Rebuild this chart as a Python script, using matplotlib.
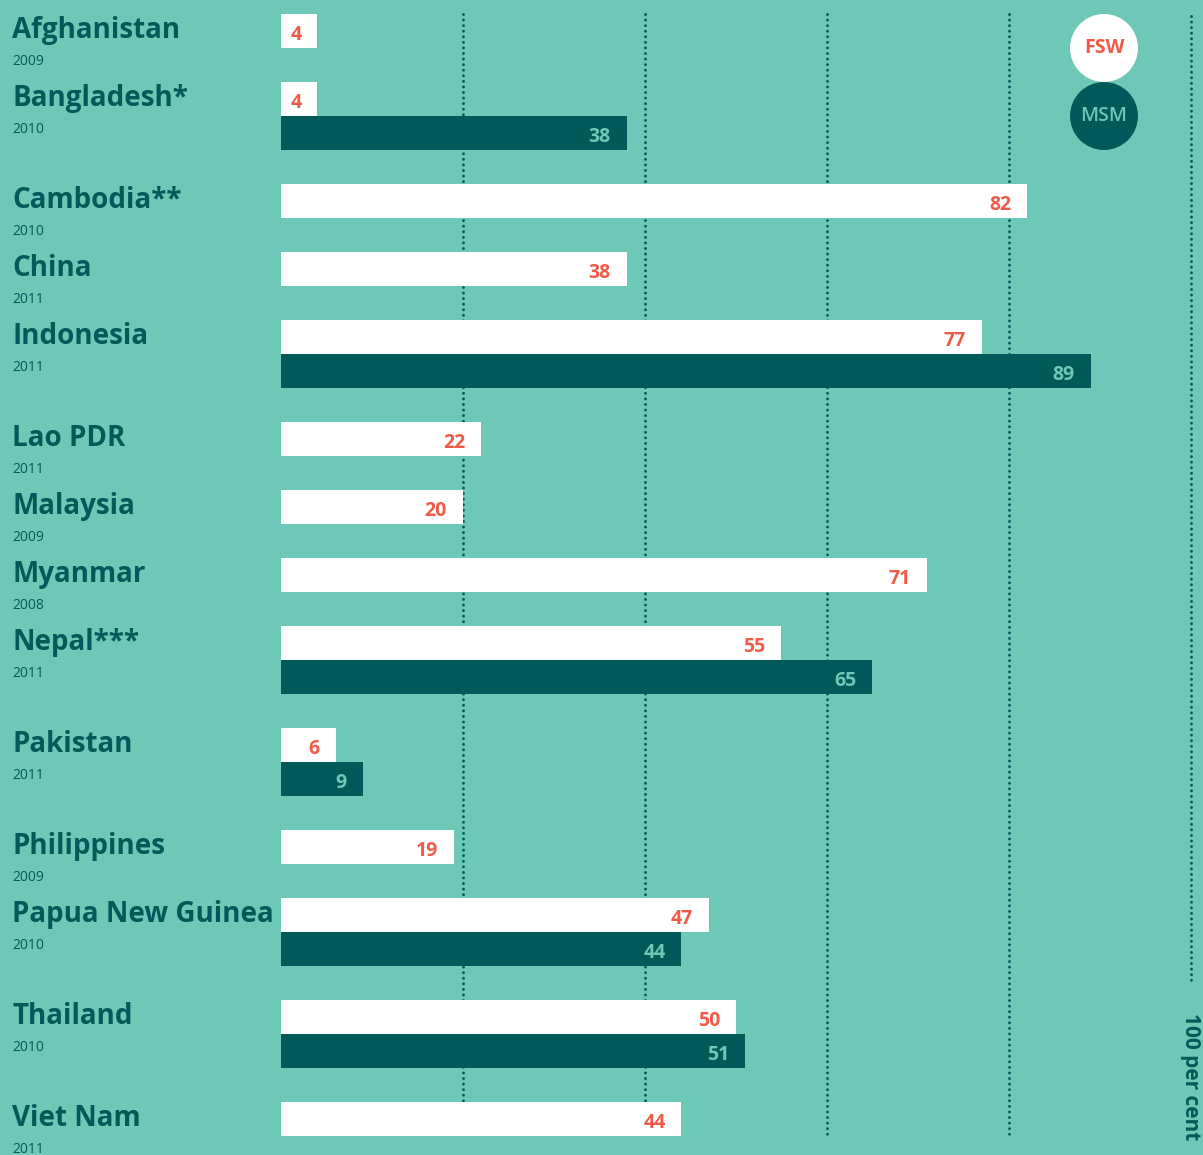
import matplotlib
matplotlib.use("Agg")
import matplotlib.pyplot as plt
from matplotlib.patches import Circle

countries = ["Afghanistan", "Bangladesh*", "Cambodia**", "China", "Indonesia",
             "Lao PDR", "Malaysia", "Myanmar", "Nepal***", "Pakistan",
             "Philippines", "Papua New Guinea", "Thailand", "Viet Nam"]
years = [2009, 2010, 2010, 2011, 2011, 2011, 2009, 2008, 2011, 2011,
         2009, 2010, 2010, 2011]
fsw = [4, 4, 82, 38, 77, 22, 20, 71, 55, 6, 19, 47, 50, 44]
msm = [None, 38, None, None, 89, None, None, None, 65, 9, None, 44, 51, None]

BG = "#6DC8B8"
DARK = "#005A5A"
RED = "#F05A48"

plt.rcParams['font.family'] = ['Open Sans', 'DejaVu Sans']

fig = plt.figure(figsize=(12.03, 11.55), dpi=100)
fig.patch.set_facecolor(BG)
ax = fig.add_axes([0, 0, 1, 1])
ax.set_facecolor(BG)
ax.axis("off")

# pixel mapping: 0 -> 281px, 100 -> 1191px ; one bar slot = 34px, first bar top at 14px
px_x = 9.1
ax.set_xlim(-281 / px_x, (1203 - 281) / px_x)
unit = 34.0
ax.set_ylim((1155 - 14) / unit, -14 / unit)

def off_pts(px):
    return px * 72 / 100

# dotted grid lines
dots = dict(color=DARK, lw=2.1, linestyle=(0, (0.01, 1.9)),
            dash_capstyle="round", zorder=1)
for g in [20, 40, 60, 80]:
    ax.plot([g, g], [0.0, (1137 - 14) / unit], **dots)
ax.plot([100, 100], [0.05, (985 - 14) / unit], **dots)
ax.text(100, (1013 - 14) / unit, "100 per cent", rotation=-90, ha="center",
        va="top", fontsize=15, fontweight="bold", color=DARK)

pos = 0
for name, yr, f, m in zip(countries, years, fsw, msm):
    ax.text(-269 / px_x, pos + 24 / unit, name, ha="left", va="baseline",
            fontsize=20, fontweight="bold", color=DARK)
    ax.text(-269 / px_x, pos + 51 / unit, str(yr), ha="left", va="baseline",
            fontsize=10, color=DARK)
    ax.barh(pos + 0.5, f, height=1.02, left=0, color="white", zorder=2)
    ax.annotate(str(f), (f, pos + 0.5), xytext=(-off_pts(16), -off_pts(4)),
                textcoords="offset points", ha="right", va="center",
                fontsize=14, fontweight="bold", color=RED, zorder=3)
    nbars = 1
    if m is not None:
        ax.barh(pos + 1.5, m, height=1.02, left=0, color=DARK, zorder=2)
        ax.annotate(str(m), (m, pos + 1.5), xytext=(-off_pts(16), -off_pts(4)),
                    textcoords="offset points", ha="right", va="center",
                    fontsize=14, fontweight="bold", color=BG, zorder=3)
        nbars = 2
    pos += nbars + 1

# legend circles (in inches so they stay round)
for label, cy, fc, tc, fw in [("FSW", 48, "white", RED, "bold"),
                              ("MSM", 116, DARK, BG, "semibold")]:
    cx_in, cy_in = 11.04, (1155 - cy) / 100
    fig.patches.append(Circle((cx_in, cy_in), 0.34, transform=fig.dpi_scale_trans,
                              facecolor=fc, edgecolor="none", zorder=4))
    fig.text(cx_in / 12.03, cy_in / 11.55, label, ha="center", va="center",
             fontsize=14, fontweight=fw, color=tc, zorder=5)

fig.savefig("out.png", dpi=100, facecolor=BG)
